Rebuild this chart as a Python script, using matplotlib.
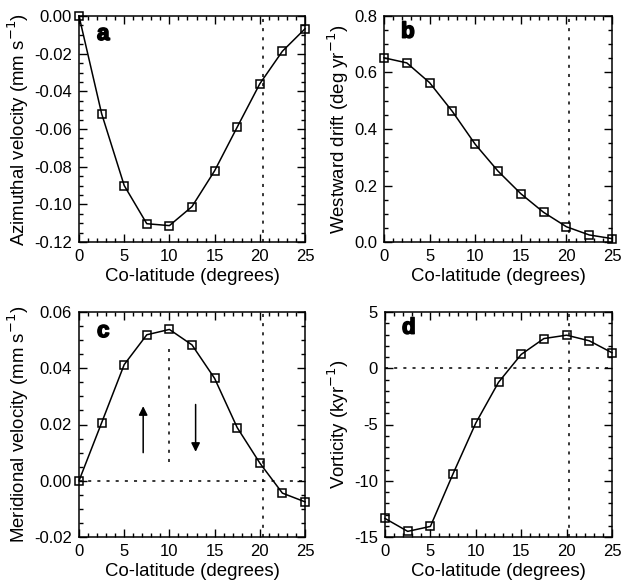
import matplotlib
matplotlib.use("Agg")
import matplotlib.pyplot as plt
from matplotlib.ticker import MultipleLocator, FormatStrFormatter
import matplotlib.patheffects as pe

plt.rcParams['font.family'] = ['Liberation Sans', 'DejaVu Sans']
plt.rcParams['axes.unicode_minus'] = False

colat = [0, 2.5, 5, 7.5, 10, 12.5, 15, 17.5, 20, 22.5, 25]
azimuthal = [0.000, -0.0518, -0.0900, -0.1103, -0.1113, -0.1012, -0.0822, -0.0590, -0.0360, -0.0187, -0.0068]
westward = [0.652, 0.634, 0.564, 0.462, 0.346, 0.251, 0.171, 0.105, 0.054, 0.025, 0.012]
meridional = [0.000, 0.0206, 0.0413, 0.0519, 0.0538, 0.0483, 0.0364, 0.0189, 0.0063, -0.0044, -0.0075]
vorticity = [-13.35, -14.5, -14.06, -9.37, -4.87, -1.25, 1.23, 2.64, 2.94, 2.44, 1.38]

boundary = 20.3

fig = plt.figure(figsize=(6.22, 5.84), dpi=100)
W, H = 622, 584

def add_ax(x0, y0, x1, y1):
    return fig.add_axes([x0 / W, 1 - y1 / H, (x1 - x0) / W, (y1 - y0) / H])

axa = add_ax(79, 16, 305, 242)
axb = add_ax(384, 16, 612, 242)
axc = add_ax(79, 312, 305, 537)
axd = add_ax(385, 312, 612, 537)

tick_fs = 12
label_fs = 13.4

def style(ax, ylim, ymaj, ymin):
    ax.set_xlim(0, 25)
    ax.set_ylim(*ylim)
    ax.xaxis.set_major_locator(MultipleLocator(5))
    ax.xaxis.set_minor_locator(MultipleLocator(1))
    ax.yaxis.set_major_locator(MultipleLocator(ymaj))
    ax.yaxis.set_minor_locator(MultipleLocator(ymin))
    ax.tick_params(which='both', direction='in', top=True, right=True, labelsize=tick_fs, width=1)
    ax.tick_params(which='major', length=6, pad=5)
    ax.tick_params(which='minor', length=3)
    for s in ax.spines.values():
        s.set_linewidth(1.1)
    ax.set_xlabel('Co-latitude (degrees)', fontsize=label_fs, labelpad=3)

def plot_series(ax, y):
    ax.plot(colat, y, color='black', lw=1.1, marker='s', ms=6.2, mfc='none', mec='black', mew=1.1, clip_on=False, zorder=3)

def dotted_v(ax, x, y0=None, y1=None):
    lo, hi = ax.get_ylim()
    ax.plot([x, x], [lo if y0 is None else y0, hi if y1 is None else y1], color='black', lw=1.1, ls=(0, (2, 4)))

def dotted_h(ax, y):
    ax.plot([0, 25], [y, y], color='black', lw=1.1, ls=(0, (2, 4)))

def panel_letter(ax, x, y, s):
    ax.text(x, y, s, transform=ax.transAxes, fontsize=16, fontweight='bold', va='top', ha='left',
            path_effects=[pe.withStroke(linewidth=1.2, foreground='black')])

# a
style(axa, (-0.12, 0.0), 0.02, 0.005)
axa.yaxis.set_major_formatter(FormatStrFormatter('%.2f'))
dotted_v(axa, boundary)
plot_series(axa, azimuthal)
axa.set_ylabel('Azimuthal velocity (mm s$^{-1}$)', fontsize=label_fs, labelpad=2)
panel_letter(axa, 0.08, 0.965, 'a')

# b
style(axb, (0.0, 0.8), 0.2, 0.05)
axb.yaxis.set_major_formatter(FormatStrFormatter('%.1f'))
dotted_v(axb, boundary)
plot_series(axb, westward)
axb.set_ylabel('Westward drift (deg yr$^{-1}$)', fontsize=label_fs, labelpad=2)
panel_letter(axb, 0.075, 0.975, 'b')

# c
style(axc, (-0.02, 0.06), 0.02, 0.005)
axc.yaxis.set_major_formatter(FormatStrFormatter('%.2f'))
dotted_v(axc, boundary)
dotted_h(axc, 0.0)
dotted_v(axc, 10, 0.0065, 0.047)
plot_series(axc, meridional)
axc.annotate('', xy=(7.1, 0.0275), xytext=(7.1, 0.009),
             arrowprops=dict(arrowstyle='-|>', color='black', lw=1.1, mutation_scale=13))
axc.annotate('', xy=(12.9, 0.0093), xytext=(12.9, 0.0281),
             arrowprops=dict(arrowstyle='-|>', color='black', lw=1.1, mutation_scale=13))
axc.set_ylabel('Meridional velocity (mm s$^{-1}$)', fontsize=label_fs, labelpad=2)
panel_letter(axc, 0.08, 0.96, 'c')

# d
style(axd, (-15, 5), 5, 1)
dotted_v(axd, boundary)
dotted_h(axd, 0.0)
plot_series(axd, vorticity)
axd.set_ylabel('Vorticity (kyr$^{-1}$)', fontsize=label_fs, labelpad=2)
panel_letter(axd, 0.075, 0.975, 'd')

fig.savefig('out.png', dpi=100)
